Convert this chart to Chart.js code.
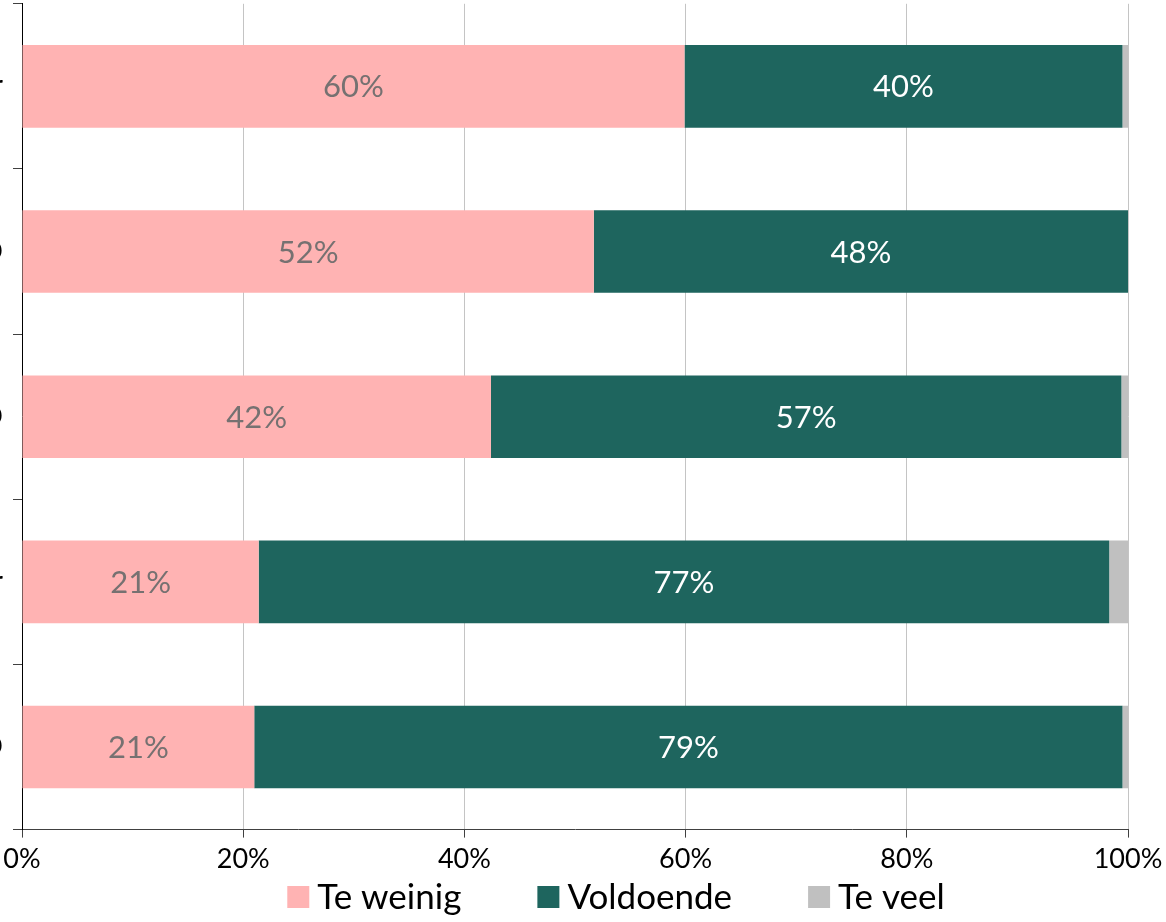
<!DOCTYPE html>
<html>
<head>
<meta charset="utf-8">
<script src="https://cdn.jsdelivr.net/npm/chart.js@4"></script>
<style>
    html, body { margin: 0; padding: 0; background: #fff; overflow: hidden; }
    #wrap { position: absolute; left: -58px; top: -23px; width: 1224px; height: 945px; }
</style>
</head>
<body>
<div id="wrap"><canvas id="chart"></canvas></div>
<script>
// Verdeling per groep (in procenten)
const categories = ['Bestuurder', 'PO', 'VO', 'Leraar', 'MBO'];
const teWeinig = [59.9, 51.7, 42.4, 21.4, 21.0];
const voldoende = [39.6, 48.3, 57.0, 76.9, 78.5];
const teVeel = [0.5, 0.0, 0.6, 1.7, 0.5];
const xTicks = [0, 20, 40, 60, 80, 100];

const FONT = 'Lato, "Open Sans", sans-serif';

// Writes the rounded percentage in the middle of each segment
const segmentLabels = {
    id: 'segmentLabels',
    afterDatasetsDraw(chart) {
        const ctx = chart.ctx;
        ctx.save();
        ctx.font = '31px ' + FONT;
        ctx.textAlign = 'center';
        ctx.textBaseline = 'middle';
        chart.data.datasets.forEach((ds, i) => {
            if (!ds.labelColor) return;
            chart.getDatasetMeta(i).data.forEach((bar, j) => {
                const v = ds.data[j];
                if (v < 3) return;
                ctx.fillStyle = ds.labelColor;
                ctx.fillText(Math.round(v) + '%', (bar.x + bar.base) / 2, bar.y + 1);
            });
        });
        ctx.restore();
    }
};

// Legend row under the axis: square swatch + text, items spread apart
const bottomLegend = {
    id: 'bottomLegend',
    afterDraw(chart, args, opts) {
        const ctx = chart.ctx;
        const box = opts.box, gap = opts.gap, spacing = opts.spacing;
        ctx.save();
        ctx.font = opts.size + 'px ' + FONT;
        ctx.textBaseline = 'middle';
        const items = chart.data.datasets.map(ds => ({
            text: ds.label,
            color: ds.backgroundColor,
            w: box + gap + ctx.measureText(ds.label).width
        }));
        const total = items.reduce((s, it) => s + it.w, 0) + spacing * (items.length - 1);
        let x = opts.centerX - total / 2;
        const y = chart.height - opts.fromBottom;
        items.forEach(it => {
            ctx.fillStyle = it.color;
            ctx.fillRect(x, y - box / 2, box, box);
            ctx.fillStyle = '#000';
            ctx.fillText(it.text, x + box + gap, y + 1);
            x += it.w + spacing;
        });
        ctx.restore();
    }
};

const ctx = document.getElementById('chart').getContext('2d');
new Chart(ctx, {
    type: 'bar',
    data: {
        labels: categories,
        datasets: [
            { label: 'Te weinig', data: teWeinig, backgroundColor: '#ffb3b3', labelColor: '#767171' },
            { label: 'Voldoende', data: voldoende, backgroundColor: '#1e655e', labelColor: '#ffffff' },
            { label: 'Te veel', data: teVeel, backgroundColor: '#c0c0c0' }
        ]
    },
    options: {
        indexAxis: 'y',
        responsive: true,
        maintainAspectRatio: false,
        animation: false,
        categoryPercentage: 1,
        barPercentage: 0.5,
        layout: { padding: { top: 5, right: 38, bottom: 42, left: 0 } },
        scales: {
            x: {
                stacked: true,
                min: 0,
                max: 100,
                afterBuildTicks: (scale) => { scale.ticks = xTicks.map(v => ({ value: v })); },
                // let the end labels hang over the edges instead of shrinking the plot
                afterFit: (scale) => { scale.paddingLeft = 0; scale.paddingRight = 0; },
                grid: { color: '#c4c4c4', lineWidth: 1, tickLength: 8, tickColor: '#404040' },
                border: { color: '#404040', width: 1 },
                ticks: {
                    color: '#000',
                    font: { family: FONT, size: 27 },
                    padding: 5,
                    maxRotation: 0,
                    callback: (v) => v + '%'
                }
            },
            y: {
                stacked: true,
                afterFit: (scale) => { scale.width = 80; },
                grid: { drawOnChartArea: false, tickLength: 9, tickColor: '#404040', offset: true },
                border: { color: '#000', width: 1 },
                ticks: {
                    color: '#000',
                    font: { family: FONT, size: 28 },
                    padding: 10
                }
            }
        },
        plugins: {
            legend: { display: false },
            tooltip: { enabled: false },
            bottomLegend: { box: 22, gap: 8, spacing: 76, size: 35, centerX: 674, fromBottom: 25 }
        }
    },
    plugins: [segmentLabels, bottomLegend]
});
</script>
</body>
</html>
